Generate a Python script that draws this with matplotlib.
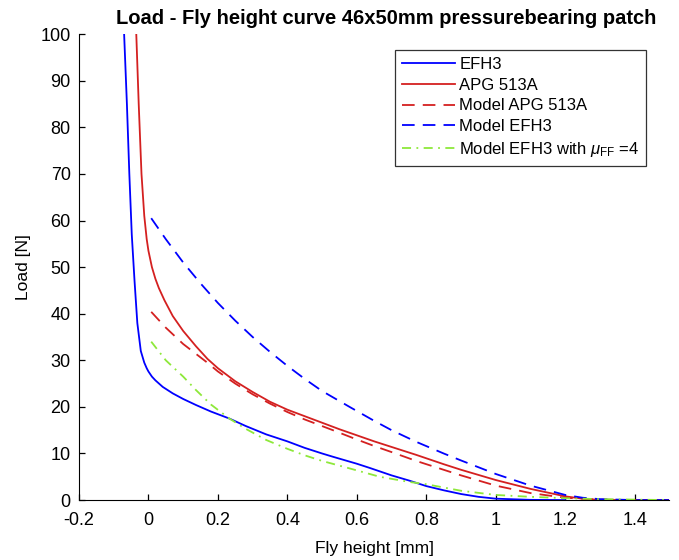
import numpy as np
import matplotlib
matplotlib.use('Agg')
from matplotlib import pyplot as plt
from matplotlib.ticker import FormatStrFormatter

plt.rcParams['font.family'] = ['Liberation Sans', 'DejaVu Sans']
plt.rcParams['axes.unicode_minus'] = False
plt.rcParams['mathtext.fontset'] = 'custom'
plt.rcParams['mathtext.rm'] = 'Liberation Sans'
plt.rcParams['mathtext.it'] = 'Liberation Sans:italic'

efh3_x = [-0.07, -0.062, -0.055, -0.048, -0.04, -0.032, -0.022, -0.012, -0.005, 0.0,
          0.01, 0.02, 0.041, 0.07, 0.1, 0.137, 0.18, 0.233, 0.28, 0.339, 0.4, 0.45,
          0.5, 0.531, 0.6, 0.637, 0.7, 0.75, 0.8, 0.85, 0.9, 0.95, 1.0, 1.1, 1.2]
efh3_y = [100, 85, 70, 57, 47, 38, 32, 29.5, 28.3, 27.6,
          26.5, 25.7, 24.3, 22.9, 21.7, 20.4, 19.0, 17.5, 15.9, 14.1, 12.6, 11.2,
          10.0, 9.3, 7.8, 6.9, 5.3, 4.2, 3.0, 2.1, 1.3, 0.7, 0.3, 0.05, 0]

apg_x = [-0.035, -0.028, -0.02, -0.012, -0.005, 0.0, 0.01, 0.02, 0.03, 0.046, 0.07,
         0.1, 0.137, 0.17, 0.2, 0.25, 0.3, 0.35, 0.4, 0.45, 0.5, 0.55, 0.6, 0.65,
         0.7, 0.771, 0.85, 0.9, 1.0, 1.1, 1.2, 1.27, 1.35, 1.5]
apg_y = [100, 85, 70, 61, 56, 53.5, 50, 47.5, 45.5, 42.9, 39.5,
         36.3, 33, 30.3, 28.3, 25.5, 23.2, 21.1, 19.4, 18, 16.6, 15.2, 13.9, 12.6,
         11.4, 9.7, 7.7, 6.5, 4.3, 2.4, 0.8, 0.1, 0, 0]

# model curves
model_apg_x = [0.008, 0.05, 0.1, 0.166, 0.2, 0.25, 0.3, 0.35, 0.4, 0.45, 0.531, 0.6,
               0.65, 0.7, 0.771, 0.85, 0.9, 1.0, 1.1, 1.2, 1.3, 1.4, 1.5]
model_apg_y = [40.4, 37, 33.5, 29.7, 27.6, 25, 22.7, 20.7, 18.9, 17.3, 15.0, 13.0,
               11.6, 10.3, 8.4, 6.5, 5.3, 3.1, 1.5, 0.5, 0.1, 0, 0]

model_efh3_x = [0.008, 0.05, 0.1, 0.15, 0.2, 0.25, 0.3, 0.35, 0.4, 0.45, 0.5, 0.579,
                0.65, 0.7, 0.771, 0.85, 0.9, 1.0, 1.1, 1.2, 1.25, 1.3, 1.4, 1.5]
model_efh3_y = [60.5, 56, 51, 46.5, 42.3, 38.5, 35, 31.8, 28.8, 26, 23.4, 20,
                17, 15, 12.5, 10, 8.5, 5.6, 3.1, 1.1, 0.5, 0.2, 0, 0]

model_mu_x = [0.008, 0.05, 0.1, 0.137, 0.18, 0.233, 0.28, 0.339, 0.4, 0.45, 0.5,
              0.579, 0.666, 0.75, 0.8, 0.9, 1.0, 1.1, 1.2, 1.3, 1.4, 1.5]
model_mu_y = [34, 30, 26.5, 23.6, 20.5, 17.5, 15.3, 12.9, 11.0, 9.6, 8.4,
              6.8, 5.0, 3.9, 3.4, 2.0, 1.1, 0.7, 0.4, 0.2, 0.1, 0]

blue = '#0000ff'
red = '#d42020'
green = '#8ee83a'

fig = plt.figure(figsize=(6.79, 5.6), dpi=100)
ax = fig.add_axes([0.1163, 0.107, 0.8697, 0.832])

lw = 1.3
ax.plot(efh3_x, efh3_y, color=blue, lw=lw, label='EFH3')
ax.plot(apg_x, apg_y, color=red, lw=lw, label='APG 513A')
ax.plot(model_apg_x, model_apg_y, color=red, lw=lw, dashes=(7, 4.5), label='Model APG 513A')
ax.plot(model_efh3_x, model_efh3_y, color=blue, lw=lw, dashes=(7, 4.5), label='Model EFH3')
ax.plot(model_mu_x, model_mu_y, color=green, lw=lw, dashes=(5, 3, 1, 3),
        label=r'Model EFH3 with $\mu_{\mathrm{FF}}$ =4')

ax.set_xlim(-0.2, 1.5)
ax.set_ylim(0, 100)
ax.set_xticks(np.arange(-0.2, 1.41, 0.2))
ax.set_yticks(np.arange(0, 101, 10))
ax.xaxis.set_major_formatter(FormatStrFormatter('%g'))
ax.tick_params(direction='in', length=4, labelsize=13, width=0.9)
ax.tick_params(axis='x', pad=8.5)
ax.tick_params(axis='y', pad=6)
ax.spines['top'].set_visible(False)
ax.spines['right'].set_visible(False)

ax.set_xlabel('Fly height [mm]', fontsize=12.5, labelpad=9)
ax.set_ylabel('Load [N]', fontsize=12.5, labelpad=7)
ax.set_title('Load - Fly height curve 46x50mm pressurebearing patch',
             fontsize=14.5, fontweight='bold', pad=7, x=0.52)

leg = ax.legend(loc='upper right', bbox_to_anchor=(0.96, 0.966), fontsize=12,
                frameon=True, fancybox=False, edgecolor='black', handlelength=3.2,
                handletextpad=0.25, borderaxespad=0, labelspacing=0.35)
leg.get_frame().set_linewidth(0.9)

fig.savefig('out.png', dpi=100)
